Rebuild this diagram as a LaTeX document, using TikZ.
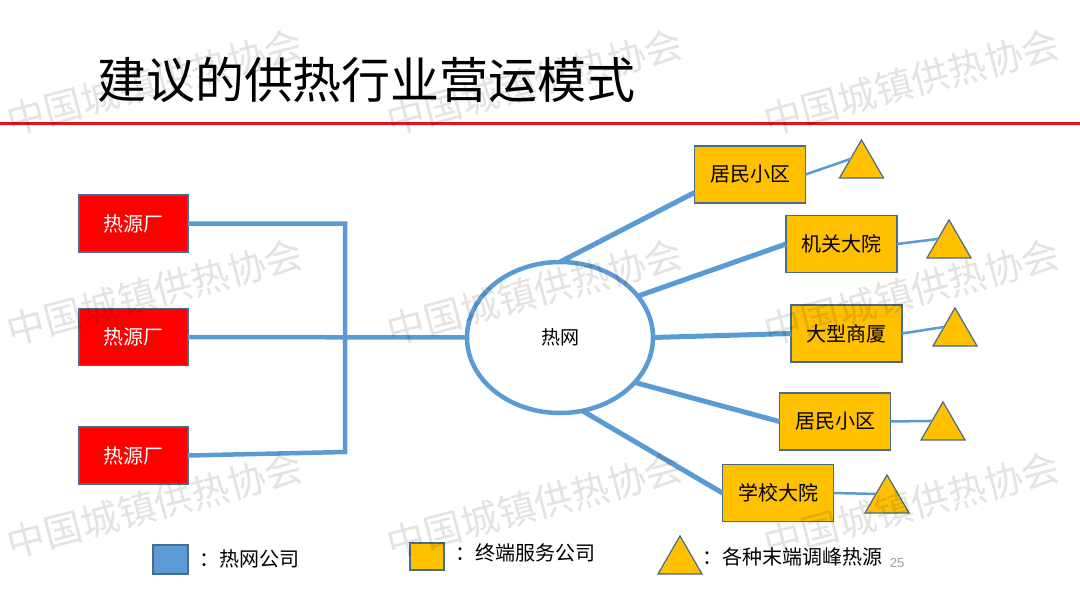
\documentclass[tikz,border=0pt]{standalone}
\usepackage{fontspec}
\setmainfont{Noto Sans CJK SC}
\newfontfamily\numfont{Liberation Sans}
\usepackage{xcolor}
\usetikzlibrary{shapes.geometric}
\definecolor{pipe-blue}{HTML}{5B9BD5}
\definecolor{plant-red}{HTML}{FF0000}
\definecolor{user-gold}{HTML}{FFC000}
\definecolor{edge-slate}{HTML}{4A6A8A}
\definecolor{rule-red}{HTML}{E8141B}

\begin{document}
\begin{tikzpicture}[x=1pt, y=-1pt,
    every node/.style={font=\fontsize{20}{24}\selectfont, inner sep=0pt, outer sep=0pt},
    srcbox/.style={draw=edge-slate, line width=1.2pt, fill=plant-red, text=white,
                   minimum width=109pt, minimum height=57pt},
    userbox/.style={draw=edge-slate, line width=1.2pt, fill=user-gold,
                    minimum width=111pt, minimum height=57pt},
    peak/.style={regular polygon, regular polygon sides=3, draw=edge-slate,
                 line width=1.2pt, fill=user-gold, minimum size=50.8pt},
    pipe/.style={draw=pipe-blue, line width=4.5pt},
    branch/.style={draw=pipe-blue, line width=2.5pt},
    watermark/.style={font=\fontsize{38}{40}\selectfont, text=black,
                      text opacity=0.11, rotate=15}]
  % Slide: heat plants on the left feed a bus into the network (ellipse),
  % which branches out to five service areas, each with a peak source.
  % Coordinates: (x, y) in slide pixels, origin top-left, y grows downward.
  \fill[white] (0,0) rectangle (1080,608);
  \useasboundingbox (0,0) rectangle (1080,608);

  % title and rule
  \node[anchor=west, font=\fontsize{49}{52}\selectfont] (title) at (97,80)
    {建议的供热行业营运模式};
  \draw[rule-red, line width=3pt] (0,123) -- (1080,123);

  % heat plants
  \foreach \i/\y in {1/223.5, 2/337, 3/455.5}
    \node[srcbox] (src\i) at (133.5,\y) {热源厂};

  % heat network
  \node[ellipse, draw=pipe-blue, line width=4.5pt, minimum width=186pt,
        minimum height=151pt, font=\fontsize{19}{22}\selectfont] (net)
        at (560,337.5) {热网};

  % end users and their peak sources
  \foreach \i/\x/\y/\lab in {1/750/174.5/居民小区, 2/841.5/244/机关大院,
      3/846.5/333.5/大型商厦, 4/835/421.5/居民小区, 5/778/493/学校大院}
    \node[userbox] (usr\i) at (\x,\y) {\lab};
  \foreach \i/\x/\y in {1/861.5/165.3, 2/949/245.3, 3/955/333.3,
      4/943/427.3, 5/887/500.3}
    \node[peak] (pk\i) at (\x,\y) {};

  % bus from the plants
  \coordinate (busT) at (345,223.5);
  \coordinate (busB) at (345,452);
  \draw[pipe] (src1.east) -- (busT) -- (busB) -- (src3.east);
  \draw[pipe] (src2.east) -- (net.west);

  % network branches
  \draw[pipe, line width=5pt] (net.north) -- (usr1.198);
  \draw[pipe, line width=5pt] (net.28) -- (usr2.west);
  \draw[pipe, line width=5pt] (net.east) -- (usr3.west);
  \draw[pipe, line width=5pt] (net.329) -- (usr4.west);
  \draw[pipe, line width=5pt] (net.287) -- (usr5.west);
  \foreach \i in {1,...,5}
    \draw[branch] (usr\i.east) -- (pk\i.side 1);

  % legend
  \node[draw=edge-slate, line width=1.2pt, fill=pipe-blue, minimum width=35pt,
        minimum height=29pt] (keyNet) at (170.5,559.5) {};
  \node[anchor=west] (keyNetTxt) at (199,559) {：热网公司};
  \node[draw=edge-slate, line width=1.2pt, fill=user-gold, minimum width=34pt,
        minimum height=27pt] (keyUser) at (427,556.5) {};
  \node[anchor=west] (keyUserTxt) at (455,553) {：终端服务公司};
  \node[peak] (keyPeak) at (680,561.3) {};
  \node[anchor=west] (keyPeakTxt) at (702,557) {：各种末端调峰热源};
  \node[font=\numfont\fontsize{13}{14}\selectfont, text=gray!75] (pgno)
    at (897,563) {25};

  % watermark
  \foreach \cx in {155,535,912}
    \foreach \cy in {82,292,505}
      \node[watermark] (wm\cx\cy) at (\cx,\cy) {中国城镇供热协会};
\end{tikzpicture}
\end{document}
